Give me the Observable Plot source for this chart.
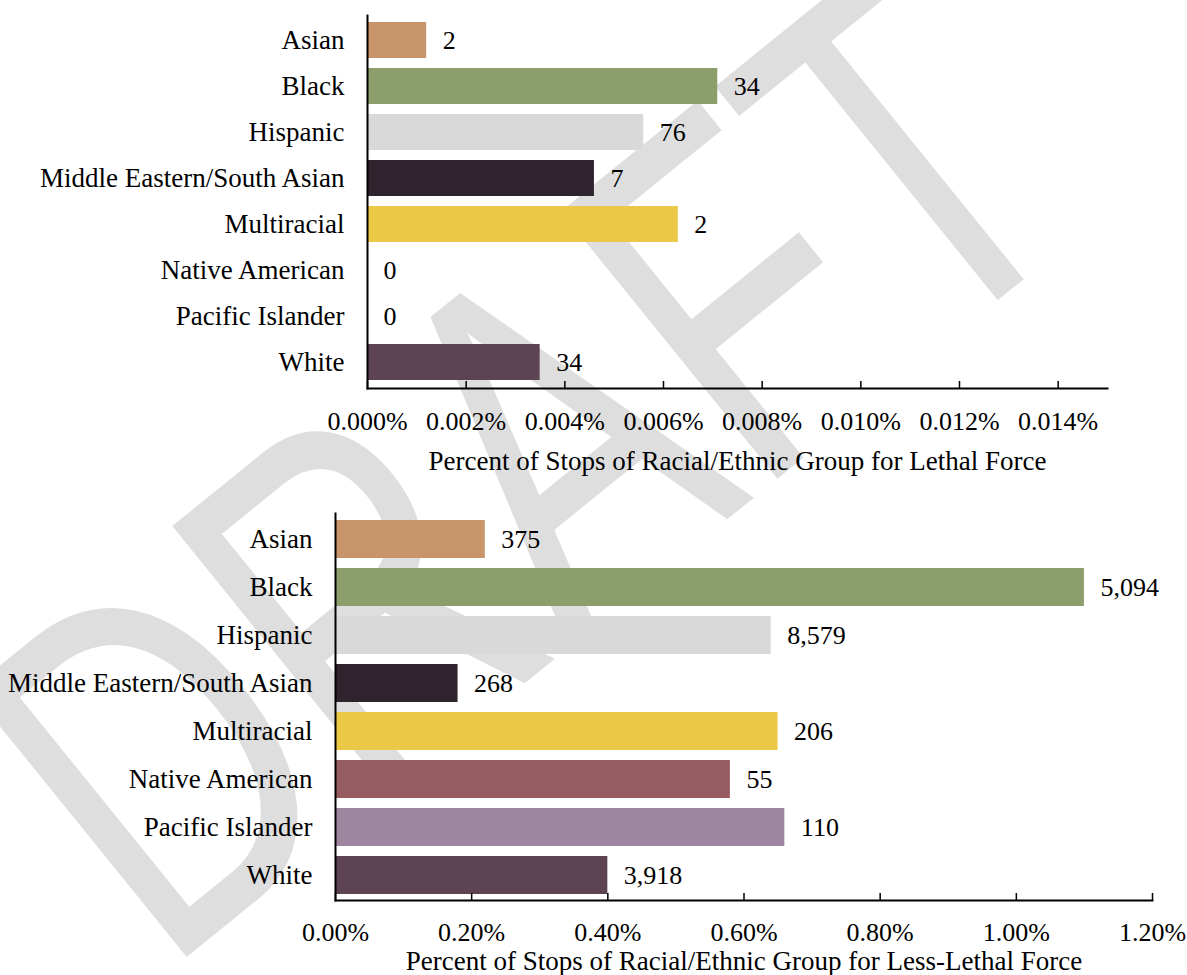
<!DOCTYPE html>
<html><head><meta charset="utf-8">
<script src="https://cdn.jsdelivr.net/npm/d3@7"></script>
<script src="https://cdn.jsdelivr.net/npm/@observablehq/plot@0.6"></script>
<style>
html,body{margin:0;padding:0;background:#fff;}
#wrap{position:relative;width:1187px;height:975px;overflow:hidden;}
#wrap > svg{position:absolute;left:0;}
#wrap svg.chart text{font-family:'Liberation Serif','Times New Roman',serif !important;}
#wrap svg#wm text{font-family:'Liberation Sans',Arial,sans-serif !important;}
</style></head><body><div id="wrap"></div>
<script>
const groups = ["Asian","Black","Hispanic","Middle Eastern/South Asian","Multiracial","Native American","Pacific Islander","White"];
const groupColors = ["#C8956B","#8D9E6D","#D9D9D9","#2F232D","#EBC845","#975C60","#9E86A0","#5E4352"];
const lethalPct = [0.0012, 0.0071, 0.0056, 0.0046, 0.0063, 0, 0, 0.0035];
const lethalCounts = ["2","34","76","7","2","0","0","34"];
const lethalTicks = [0, 0.002, 0.004, 0.006, 0.008, 0.010, 0.012, 0.014];
const lessLethalPct = [0.22, 1.10, 0.64, 0.18, 0.65, 0.58, 0.66, 0.40];
const lessLethalCounts = ["375","5,094","8,579","268","206","55","110","3,918"];
const lessLethalTicks = [0, 0.2, 0.4, 0.6, 0.8, 1.0, 1.2];
const lethalTitle = "Percent of Stops of Racial/Ethnic Group for Lethal Force";
const lessLethalTitle = "Percent of Stops of Racial/Ethnic Group for Less-Lethal Force";

const FONT = "Liberation Serif";
const wrap = document.getElementById("wrap");

// DRAFT watermark behind the charts
const wm = d3.create("svg").attr("id","wm").attr("width",1187).attr("height",975).style("top","0px");
wm.append("text")
  .attr("transform","translate(630,598) rotate(-39) scale(0.72,1)")
  .attr("text-anchor","middle")
  .attr("font-size",500)
  .attr("fill","#DEDEDE")
  .text("DRAFT");
wrap.appendChild(wm.node());

function chart({values, counts, ticks, domain, fmt, title, height, mt, mb, ml, mr, tickPad, titleDy}) {
  const data = groups.map((g,i)=>({group:g, value: values[i], count: counts[i]}));
  const svg = Plot.plot({
    width: 1187, height,
    marginTop: mt, marginBottom: mb, marginLeft: ml, marginRight: mr,
    style: {background: "transparent", fontSize: "26px", color: "#000", overflow: "visible"},
    x: {domain, axis: null},
    y: {domain: groups, paddingInner: 0.21, paddingOuter: 0.1, axis: null},
    color: {domain: groups, range: groupColors},
    marks: [
      Plot.barX(data, {y: "group", x: "value", fill: "group"}),
      Plot.text(data, {y: "group", x: "value", text: "count", dx: 16, textAnchor: "start", fontSize: 26, fontFamily: FONT, fill: "#000"}),
      Plot.axisY({tickSize: 0, tickPadding: 23, fontSize: 27, fontFamily: FONT, label: null}),
      Plot.axisX({ticks, tickSize: 7, dy: -7, tickFormat: () => "", strokeWidth: 1.5, label: null}),
      Plot.axisX({ticks, tickSize: 0, tickPadding: tickPad, tickFormat: fmt, fontSize: 26, fontFamily: FONT, label: null}),
      Plot.frame({anchor: "left", strokeWidth: 2}),
      Plot.frame({anchor: "bottom", strokeWidth: 2}),
      Plot.text([title], {frameAnchor: "bottom", dy: titleDy, lineAnchor: "middle", fontSize: 27, fontFamily: FONT, fill: "#000"})
    ]
  });
  svg.classList.add("chart");
  return svg;
}

const top1 = chart({values: lethalPct, counts: lethalCounts, ticks: lethalTicks, domain: [0, 0.015],
  fmt: d => d.toFixed(3) + "%", title: lethalTitle, height: 480, mt: 15, mb: 92, ml: 367, mr: 80, tickPad: 23, titleDy: 73});
top1.style.top = "0px";
wrap.appendChild(top1);

const bot = chart({values: lessLethalPct, counts: lessLethalCounts, ticks: lessLethalTicks, domain: [0, 1.2],
  fmt: d => d.toFixed(2) + "%", title: lessLethalTitle, height: 495, mt: 33, mb: 75, ml: 335, mr: 35, tickPad: 22, titleDy: 61});
bot.style.top = "480px";
wrap.appendChild(bot);
</script>
</body></html>
